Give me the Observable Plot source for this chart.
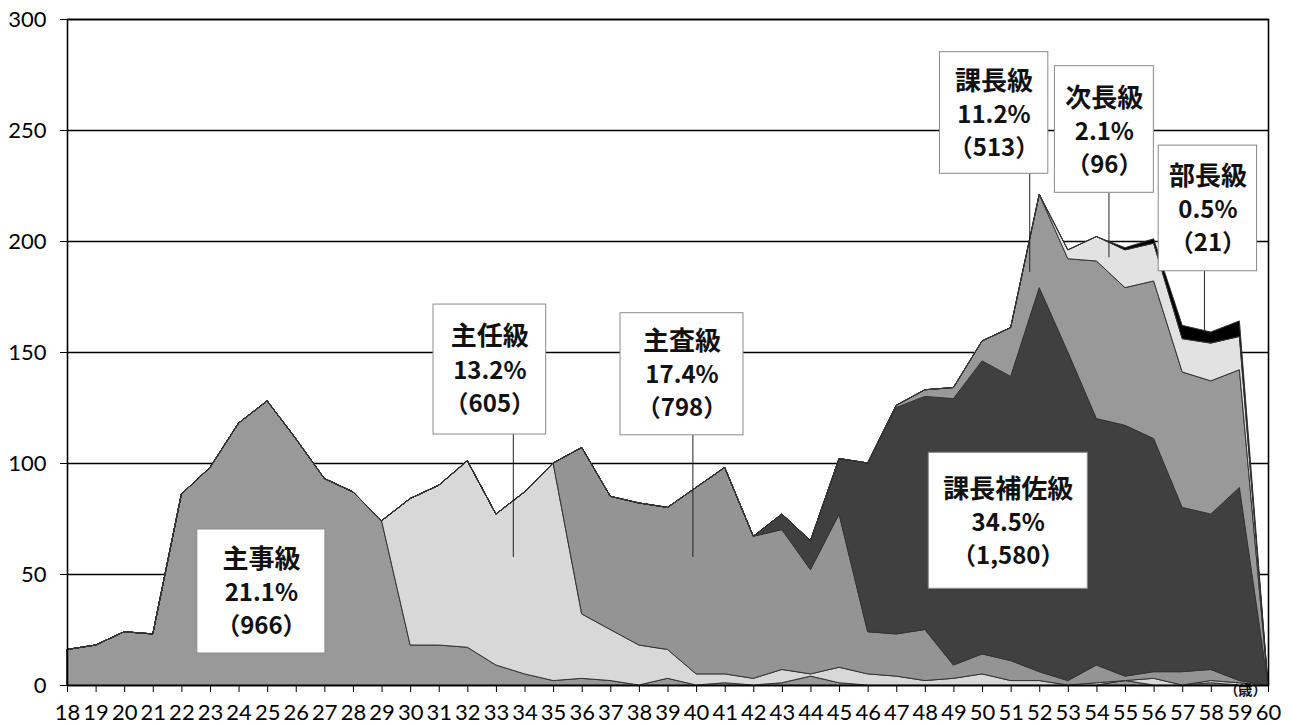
<!DOCTYPE html>
<html>
<head>
<meta charset="utf-8">
<script src="https://cdn.jsdelivr.net/npm/d3@7"></script>
<script src="https://cdn.jsdelivr.net/npm/@observablehq/plot@0.6"></script>
<style>
  html, body { margin: 0; padding: 0; background: #fff; }
  #chart svg { display: block; }
</style>
</head>
<body>
<div id="chart"></div>
<script>
// ---- data ----
const ages = [18,19,20,21,22,23,24,25,26,27,28,29,30,31,32,33,34,35,36,37,38,39,40,41,42,43,44,45,46,47,48,49,50,51,52,53,54,55,56,57,58,59,60];
const grades = ["主事級","主任級","主査級","課長補佐級","課長級","次長級","部長級"];

const shuji  = [16,18,24,23,86,98,118,128,111,93,87,74,18,18,17,9,5,2,3,2,0,3,0,1,0,1,4,1,0,0,0,0,0,0,0,0,0,2,0,0,1,0,0];
const shunin = [0,0,0,0,0,0,0,0,0,0,0,0,66,72,84,68,82,98,29,23,18,13,5,4,3,6,1,7,5,4,2,3,5,2,2,0,1,0,3,0,1,1,0];
const shusa  = [0,0,0,0,0,0,0,0,0,0,0,0,0,0,0,0,0,0,75,60,64,64,84,93,64,63,47,69,19,19,23,6,9,9,4,2,8,2,3,6,5,1,0];
const hosa   = [0,0,0,0,0,0,0,0,0,0,0,0,0,0,0,0,0,0,0,0,0,0,0,0,0,7,13,25,76,102,105,120,132,128,173,148,111,113,105,74,70,87,0];
const kacho  = [0,0,0,0,0,0,0,0,0,0,0,0,0,0,0,0,0,0,0,0,0,0,0,0,0,0,0,0,0,1,3,5,9,22,42,42,71,62,71,61,60,53,0];
const jicho  = [0,0,0,0,0,0,0,0,0,0,0,0,0,0,0,0,0,0,0,0,0,0,0,0,0,0,0,0,0,0,0,0,0,0,0,4,11,17,17,15,17,15,0];
const bucho  = [0,0,0,0,0,0,0,0,0,0,0,0,0,0,0,0,0,0,0,0,0,0,0,0,0,0,0,0,0,0,0,0,0,0,0,0,0,1,2,6,5,7,0];

const yTicks = [0,50,100,150,200,250,300];

const labelNames  = ["主事級","主任級","主査級","課長補佐級","課長級","次長級","部長級"];
const labelPcts   = ["21.1%","13.2%","17.4%","34.5%","11.2%","2.1%","0.5%"];
const labelCounts = ["（966）","（605）","（798）","（1,580）","（513）","（96）","（21）"];

// ---- annotation placement (data units: age / persons) ----
const boxX1 = [22.54,30.80,37.34,48.12,48.51,52.53,56.16];
const boxX2 = [27.02,34.74,41.64,53.68,52.30,55.99,59.60];
const boxY1 = [70.27,171.6,167.7,104.8,285.3,278.96,243.2];
const boxY2 = [14.41,113.06,112.7,43.56,230.5,221.94,186.6];
const textX = [24.78,32.77,39.49,50.90,50.40,54.26,57.88];
const textY = [41.44,141.6,139.6,72.84,256.8,249.2,214.0];
const leadX  = [null,33.59,39.87,null,51.65,54.42,57.76];
const leadY2 = [null,57.66,57.66,null,186.0,192.7,158.4];

// ---- build tables ----
const seriesValues = [shuji, shunin, shusa, hosa, kacho, jicho, bucho];
const data = grades.flatMap((g, i) => ages.map((a, j) => ({age: a, grade: g, value: seriesValues[i][j]})));
const fills = ["#999999","#d8d8d8","#949494","#404040","#999999","#e2e2e2","#000000"];

const labels = labelNames.map((n, i) => ({
  name: n, pct: labelPcts[i], count: labelCounts[i],
  x1: boxX1[i], x2: boxX2[i], y1: boxY1[i], y2: boxY2[i],
  tx: textX[i], ty: textY[i]
}));
const leaders = labelNames.map((n, i) => ({x: leadX[i], y1: boxY2[i], y2: leadY2[i]})).filter(d => d.x != null);

const jp = "'Noto Sans CJK JP', sans-serif";
const tickFont = "Lato, 'Open Sans', sans-serif";

const hasAxisMarks = typeof Plot.axisX === "function";

const axisMarks = hasAxisMarks ? [
  Plot.axisX({ticks: ages, tickFormat: d => String(d), tickSize: 7, tickPadding: 12, fontSize: 22, fontFamily: tickFont, fill: "#000", label: null}),
  Plot.axisY({ticks: yTicks, tickSize: 7, tickPadding: 14, fontSize: 22, fontFamily: tickFont, fill: "#000", label: null})
] : [];

const chart = Plot.plot({
  width: 1292,
  height: 724,
  marginLeft: 67,
  marginRight: 24,
  marginTop: 19,
  marginBottom: 39,
  style: "font-family: Lato, 'Open Sans', sans-serif; font-size: 22px; color: #000; background: #fff; overflow: visible;",
  x: {domain: [18, 60], ticks: ages, tickFormat: d => String(d), tickSize: 7, tickPadding: 12, label: null},
  y: {domain: [0, 300], ticks: yTicks, tickSize: 7, tickPadding: 14, label: null},
  color: {domain: grades, range: fills},
  marks: [
    Plot.ruleY(yTicks, {stroke: "#000", strokeWidth: 1.6}),
    Plot.areaY(data, {x: "age", y: "value", z: "grade", fill: "grade", order: grades, stroke: "#333", strokeWidth: 1, strokeLinejoin: "round"}),
    Plot.frame({stroke: "#000", strokeWidth: 1.6}),
    ...axisMarks,
    Plot.ruleX(leaders, {x: "x", y1: "y1", y2: "y2", stroke: "#222", strokeWidth: 1}),
    Plot.rect(labels, {x1: "x1", x2: "x2", y1: "y1", y2: "y2", fill: "#fff", stroke: "#8a8a8a", strokeWidth: 1}),
    Plot.text(labels, {x: "tx", y: "ty", text: "name", dy: -34, fontSize: 26, fontWeight: "bold", fontFamily: jp, fill: "#111"}),
    Plot.text(labels, {x: "tx", y: "ty", text: "pct", dy: 0, fontSize: 24, fontWeight: "bold", fontFamily: jp, fill: "#111"}),
    Plot.text(labels, {x: "tx", y: "ty", text: "count", dy: 33, fontSize: 24, fontWeight: "bold", fontFamily: jp, fill: "#111"}),
    Plot.text(["（歳）"], {frameAnchor: "bottom-right", dx: -2, dy: 9, textAnchor: "end", fontSize: 14, fontWeight: "bold", fontFamily: jp, fill: "#111"})
  ]
});

document.getElementById("chart").appendChild(chart);
</script>
</body>
</html>
